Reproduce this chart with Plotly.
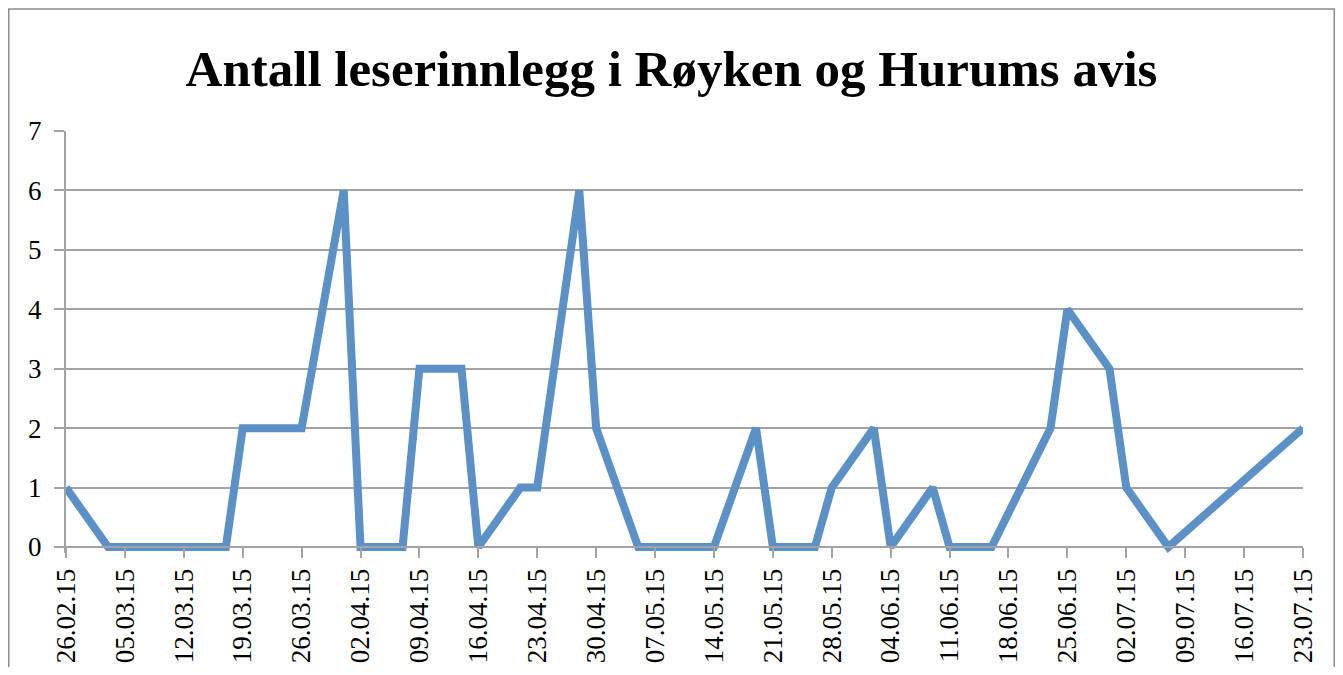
import plotly.graph_objects as go

# ---- data ----
dates = ["2015-02-26", "2015-03-03", "2015-03-05", "2015-03-10", "2015-03-12", "2015-03-17",
         "2015-03-19", "2015-03-24", "2015-03-26", "2015-03-31",
         "2015-04-02", "2015-04-07", "2015-04-09", "2015-04-14", "2015-04-16",
         "2015-04-21", "2015-04-23", "2015-04-28", "2015-04-30",
         "2015-05-05", "2015-05-07", "2015-05-12", "2015-05-14",
         "2015-05-19", "2015-05-21", "2015-05-26", "2015-05-28", "2015-06-02",
         "2015-06-04", "2015-06-09", "2015-06-11", "2015-06-16",
         "2015-06-23", "2015-06-25", "2015-06-30", "2015-07-02", "2015-07-07", "2015-07-23"]
values = [1, 0, 0, 0, 0, 0,
          2, 2, 2, 6,
          0, 0, 3, 3, 0,
          1, 1, 6, 2,
          0, 0, 0, 0,
          2, 0, 0, 1, 2,
          0, 1, 0, 0,
          2, 4, 3, 1, 0, 2]

tick_dates = ["2015-02-26", "2015-03-05", "2015-03-12", "2015-03-19", "2015-03-26", "2015-04-02",
              "2015-04-09", "2015-04-16", "2015-04-23", "2015-04-30", "2015-05-07", "2015-05-14",
              "2015-05-21", "2015-05-28", "2015-06-04", "2015-06-11", "2015-06-18", "2015-06-25",
              "2015-07-02", "2015-07-09", "2015-07-16", "2015-07-23"]
tick_labels = ["26.02.15", "05.03.15", "12.03.15", "19.03.15", "26.03.15", "02.04.15",
               "09.04.15", "16.04.15", "23.04.15", "30.04.15", "07.05.15", "14.05.15",
               "21.05.15", "28.05.15", "04.06.15", "11.06.15", "18.06.15", "25.06.15",
               "02.07.15", "09.07.15", "16.07.15", "23.07.15"]
y_ticks = [0, 1, 2, 3, 4, 5, 6, 7]

title_text = "Antall leserinnlegg i Røyken og Hurums avis"

# page body has an 8px margin, so the figure is sized to fit inside the window
W, H = 1327, 659
L, R, T, B = 58, 32, 123, 114
plot_h = H - T - B
pad = 6.0                      # px of room below value 0 so the thick line is not clipped
axis_pos = pad / plot_h        # x-axis drawn at value 0
unit_px = (plot_h - pad) / 7.0

fig = go.Figure()
fig.add_trace(go.Scatter(
    x=dates, y=values, mode="lines",
    line=dict(color="#5B91C7", width=8),
    hoverinfo="x+y", showlegend=False,
))

grid_col = "#A3A3A3"
fig.update_layout(
    width=W, height=H,
    margin=dict(l=L, r=R, t=T, b=B, autoexpand=False),
    paper_bgcolor="white", plot_bgcolor="white",
    title=dict(text=title_text, x=0.5, xanchor="center", xref="container",
               y=1 - 60 / H, yanchor="middle", yref="container",
               font=dict(family="Liberation Serif", size=51, color="black", weight="bold")),
    xaxis=dict(
        type="date",
        range=[tick_dates[0], tick_dates[-1]],
        tickvals=tick_dates, ticktext=tick_labels,
        tickangle=-90,
        tickfont=dict(family="Liberation Serif", size=27, color="black"),
        showgrid=False, zeroline=False,
        showline=True, linecolor=grid_col, linewidth=2,
        ticks="outside", ticklen=10, tickcolor=grid_col, tickwidth=2,
        anchor="free", position=axis_pos,
        automargin=False,
    ),
    yaxis=dict(
        range=[-pad / unit_px, 7],
        tickvals=y_ticks,
        tickfont=dict(family="Liberation Serif", size=27, color="black"),
        ticklabelstandoff=7,
        showgrid=True, gridcolor=grid_col, gridwidth=2,
        zeroline=False,
        showline=True, linecolor=grid_col, linewidth=2,
        ticks="outside", ticklen=10, tickcolor=grid_col, tickwidth=2,
        automargin=False,
    ),
)

# outer chart border
def px_to_paper_x(px):
    return (px - L) / (W - L - R)

def px_to_paper_y(py):
    return (H - B - py) / plot_h

fig.add_shape(type="rect", xref="paper", yref="paper",
              x0=px_to_paper_x(0.75), x1=px_to_paper_x(W - 0.75),
              y0=px_to_paper_y(H + 20), y1=px_to_paper_y(1),
              line=dict(color="#8C8C8C", width=1.5), fillcolor="rgba(0,0,0,0)", layer="below")

fig.write_html("out.html")
